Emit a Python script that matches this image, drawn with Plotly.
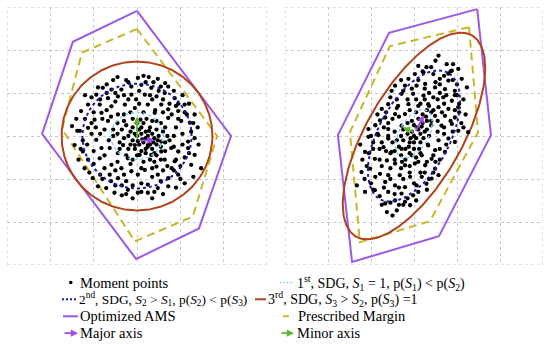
import numpy as np
import plotly.graph_objects as go

# ---------------- data ----------------
grid_ticks = [-3, -2, -1, 0, 1, 2, 3]

left_pts_x = [-0.45,0.02,0.27,0.48,0.65,0.72,-0.79,-0.59,-0.36,-0.13,0.1,0.33,-0.94,-0.67,-0.44,-0.13,-0.02,0.18,0.45,0.64,0.87,1.1,1.33,-1.13,-0.86,-0.59,-0.28,-0.05,0.25,0.56,0.72,0.95,-1.29,-0.82,-0.44,0.41,0.72,1.02,1.22,-0.98,-0.67,-1.13,-1.32,-0.75,
 -1.44,-1.25,-0.94,-0.82,-0.86,-1.13,-1.21,-1.02,-0.9,-0.71,-0.52,-0.63,-0.59,-0.36,-0.44,-0.25,-0.13,0.02,0.18,0.45,0.48,0.25,0.48,0.25,0.72,0.72,0.95,0.87,0.64,0.95,1.18,1.33,1.18,0.79,0.56,0.33,0.06,-0.21,-0.44,-0.63,-0.32,-0.05,0.25,0.56,0.02,-0.21,1.33,1.25,1.48,-1.5,-1.38,-0.9,
 -1.05,-0.2,0.38,0.85,1.05,1.2,1.4,1.42,1.3,1.1,0.9,0.6,0.35,-0.1,-0.35,-0.8,-1.1,-1.35,-1.4,-1.2,-0.7,-0.55,0.15,-1.25,-1.05,-1.0,-0.7,-0.5,0.05,0.6,0.95,1.15,0.9,1.05,1.1,0.8,1.0,0.6,0.35,0.1,-0.1,-0.35,-0.6,-0.75,-1.0,-1.15,-0.95,0.8,0.5,0.3,-0.3,-0.15,0.15,0.45,0.65,0.85,0.75,-0.6,-0.85,-0.55,-0.65,-0.45,-0.15,0.15,0.4,0.65,0.9,-0.3,0.1,
 0.0,0.1,0.2,0.3,0.4,0.15,0.05,0.25,0.35,0.45,-0.1,-0.2,-0.3,-0.15,0.05,0.2,0.35,0.5,0.1,-0.05,0.2,0.4,-0.2,-0.35,-0.25,0.0,0.15,0.3,0.45,0.55,-0.1,0.1,0.25,0.3,0.12,-0.05,0.38,0.2,0.02,-0.15,0.28,0.48,0.08,-0.3,0.35,-0.4,0.6,0.55,-0.45,0.0,
 -0.7,0.55,0.2,-0.25,0.9,1.1,1.3,0.75,0.35,-0.2,-0.5,-0.85,-1.2,-1.05,-0.45,-0.3,0.05,0.6,0.95,1.25,1.2,1.0,0.85,0.55,0.4,0.1,-0.25,-0.5,-0.85,-1.0,-1.3,-0.75,-0.5,-0.25,0.35,0.7,0.55,0.85,1.05,-0.55,-0.4,0.7,0.65,0.45,0.3,-0.1,0.22,-0.1,0.42,-0.8]
left_pts_y = [1.37,1.35,1.37,1.33,1.23,1.15,1.12,1.08,1.08,1.15,1.19,1.12,0.96,0.88,0.92,0.96,0.85,0.96,0.92,1.0,0.88,0.73,0.5,0.73,0.73,0.69,0.73,0.65,0.73,0.73,0.62,0.58,0.58,0.54,0.5,0.54,0.42,0.35,0.31,0.38,0.35,0.19,0.12,0.15,
 -0.21,-0.36,-0.09,-0.28,-0.52,-0.55,-0.75,-0.98,-1.17,-1.21,-1.32,-0.9,-0.67,-0.75,-0.98,-1.05,-0.82,-0.9,-0.79,-0.71,-0.9,-1.13,-1.21,-1.32,-0.98,-1.17,-0.9,-0.59,-0.55,-0.36,-0.28,-0.05,-0.13,-0.28,-0.36,-0.44,-0.44,-0.52,-0.4,-0.28,-0.21,-0.21,-0.21,-0.13,-1.32,-1.25,-0.44,-0.67,-0.75,0.23,0.12,1.13,
 0.9,1.25,1.25,1.05,0.95,0.75,0.2,-0.2,-0.95,-1.1,-1.2,-1.35,-1.45,-1.45,-1.38,-1.0,-0.85,-0.55,0.4,0.95,1.2,1.3,1.4,-0.1,0.05,0.55,0.6,0.8,1.05,0.85,0.75,0.5,0.2,0.05,-0.5,-0.75,-0.7,-0.8,-0.95,-1.1,-1.15,-1.15,-1.05,-0.75,-0.35,-0.2,0.2,0.5,1.05,0.95,0.95,0.55,0.55,0.35,0.2,0.0,-0.1,0.45,0.05,0.15,-0.1,-0.6,-0.65,-0.6,-0.6,-0.35,-0.55,-0.9,-0.75,
 0.0,0.05,-0.05,-0.1,-0.05,-0.15,-0.2,-0.25,-0.3,-0.2,-0.1,0.0,-0.05,0.1,0.15,0.1,0.05,0.0,-0.35,-0.3,-0.4,-0.4,-0.3,0.15,0.25,0.3,0.3,0.2,0.15,-0.25,0.2,0.2,0.0,-0.2,-0.08,0.05,-0.15,-0.3,-0.12,-0.2,0.12,-0.1,0.38,0.35,0.35,-0.15,0.1,0.3,0.05,-0.45,
 1.0,1.15,1.25,1.3,0.7,0.55,0.3,0.75,0.85,0.85,1.0,0.85,0.4,0.3,0.3,0.5,0.75,0.55,0.4,0.1,-0.4,-1.0,-0.8,-1.05,-1.3,-1.3,-1.35,-1.15,-0.9,-0.65,-0.3,-0.45,-0.8,-0.45,-0.75,-0.7,-0.55,-0.25,-0.2,0.0,-0.3,0.0,-0.15,-0.45,-0.55,-0.55,0.4,0.4,0.6,0.4]

right_pts_x = [0.57,0.1,0.29,0.76,0.91,1.03,0.88,0.02,0.22,0.45,0.6,0.8,1.11,1.23,-0.13,-0.21,0.06,0.26,0.49,0.72,0.95,-0.44,-0.52,-0.29,-0.02,0.22,0.45,0.68,0.88,1.03,-0.6,-0.37,-0.13,0.1,0.33,0.57,0.8,-0.75,-0.67,-0.44,-0.21,0.49,0.72,0.95,0.88,0.64,-0.79,-1.06,-0.6,-0.29,1.03,1.26,
 -1.06,-0.83,-0.6,-1.14,-0.95,-0.71,-0.52,-0.29,-0.91,-0.63,-0.44,-0.21,0.02,0.26,0.49,0.57,-1.22,-1.02,-0.79,-0.6,-0.33,-0.09,0.18,0.41,-0.67,-0.44,-0.21,0.06,0.29,-1.14,-0.91,-0.6,-0.29,-0.02,-0.67,-0.44,-0.21,-0.09,-0.63,-0.4,0.72,0.49,0.8,0.57,0.33,0.18,0.41,-0.05,0.95,-1.33,
 0.0,0.1,-0.1,0.2,-0.2,0.05,0.15,-0.05,0.25,-0.25,0.0,0.1,-0.15,0.3,-0.3,-0.1,0.0,0.15,-0.2,0.05,0.3,0.2,-0.05,-0.25,0.35,-0.35,0.12,-0.12,0.08,0.22,-0.15,0.4,-0.4,0.0,0.18,-0.08,0.28,-0.28,0.05,-0.1,0.4,-0.45,0.15,-0.3,0.32,
 0.7,0.4,-0.3,0.9,1.15,1.2,1.1,0.95,0.7,0.45,0.25,-0.1,-0.5,-0.7,-0.85,-0.4,-0.55,0.6,0.35,0.1,0.7,0.55,0.75,0.6,0.45,0.3,0.1,-0.15,-0.35,-0.55,-0.8,-1.0,-1.2,-1.25,-1.0,-0.9,-0.75,-0.5,-0.45,-0.75,-0.9,-0.55,-0.35,0.0,0.25,0.45,0.55,0.35,0.6,1.0,0.85,-0.25,0.05,-0.35,-0.6,-0.65,
 0.5,0.2,0.8,1.0,0.5,0.25,-0.05,0.75,1.05,0.65,0.3,-0.15,-0.4,-0.65,0.85,1.15,0.9,0.6,0.5,0.3,0.35,0.15,-0.1,-0.25,-0.55,-0.8,-1.05,-1.1,-1.15,-0.95,-0.7,-0.45,-0.25,-0.5,-0.75,0.05,-0.85,-0.6,-0.45,-0.95,-0.3,0.1,0.55,0.4,0.7,0.95,0.15,-0.55,-0.8,1.05]
right_pts_y = [1.87,1.63,1.6,1.67,1.67,1.56,1.52,1.44,1.48,1.44,1.33,1.29,1.33,1.13,1.33,1.17,1.17,1.21,1.13,1.09,1.05,1.17,1.05,0.98,0.98,0.94,0.9,0.9,0.82,0.67,0.74,0.7,0.74,0.7,0.74,0.67,0.63,0.63,0.43,0.51,0.51,0.47,0.47,0.43,0.28,0.24,0.36,0.16,0.16,0.24,0.12,0.09,
 -0.02,0.02,-0.06,-0.37,-0.3,-0.26,-0.37,-0.3,-0.53,-0.57,-0.64,-0.68,-0.64,-0.68,-0.76,-0.91,-0.84,-0.76,-0.88,-0.91,-0.91,-0.95,-0.95,-0.99,-1.07,-1.15,-1.19,-1.15,-1.11,-1.3,-1.26,-1.3,-1.34,-1.38,-1.57,-1.5,-1.53,-1.61,-1.77,-1.73,-0.37,-0.33,-0.06,-0.1,-0.22,-0.45,-0.53,-0.45,-0.14,-1.15,
 0.0,0.15,-0.15,0.3,-0.3,-0.05,0.05,0.1,0.1,-0.1,0.25,0.4,0.05,0.35,-0.45,-0.4,-0.3,-0.15,-0.55,-0.5,0.15,0.5,0.35,0.15,0.0,-0.25,-0.3,-0.25,0.2,-0.05,0.3,0.25,-0.1,-0.15,0.22,-0.05,0.45,-0.6,0.55,-0.7,0.55,-0.35,-0.4,0.0,-0.2,
 1.4,1.6,1.3,1.3,0.85,0.5,0.3,0.6,0.75,0.6,0.85,0.6,0.4,0.2,0.5,0.85,0.9,1.0,1.0,1.3,0.2,0.1,-0.2,-0.55,-0.85,-1.25,-1.3,-1.45,-1.6,-1.55,-1.4,-1.1,-0.55,-0.2,0.0,0.25,-0.15,-0.15,-0.55,-0.7,-0.95,-1.0,-1.2,-1.1,-0.85,-0.45,0.35,0.7,1.2,0.95,1.5,1.05,0.85,0.45,0.0,-0.35,
 1.75,1.5,1.45,1.2,1.25,1.1,1.1,0.95,0.75,0.55,0.6,0.85,0.65,0.55,0.35,0.2,0.1,-0.3,-0.6,-0.6,-1.0,-0.85,-0.85,-1.0,-0.75,-0.55,-0.4,-0.7,-1.0,-1.25,-1.2,-1.35,-1.6,-1.85,-1.6,-1.5,0.05,0.3,0.1,-0.15,-0.75,-0.6,0.85,0.35,0.05,0.95,0.75,-0.4,-0.3,0.55]

# polygons (vertices)
left_ams_x = [0.0, -1.48, -2.19, -0.02, 1.43, 2.17]
left_ams_y = [2.91, 2.19, 0.05, -2.86, -2.15, 0.0]
left_margin_x = [0.0, -1.27, -1.73, -0.05, 1.29, 1.85]
left_margin_y = [2.49, 1.94, 0.16, -2.45, -1.87, 0.0]
right_ams_x = [1.47, -0.58, -1.77, -1.44, 0.58, 1.79]
right_ams_y = [2.95, 2.40, 0.02, -2.93, -2.33, 0.02]
right_margin_x = [1.28, -0.56, -1.49, -1.26, 0.37, 1.49]
right_margin_y = [2.53, 2.09, 0.09, -2.47, -1.98, 0.09]

# SDG ellipses: (cx, cy, semi-major, semi-minor, angle deg)
left_sdg1 = (0.0, 0.0, 0.6, 0.55, 0)
left_sdg2 = (0.0, 0.0, 1.26, 1.22, 0)
left_sdg3 = (0.0, 0.0, 1.74, 1.73, 0)
right_sdg1 = (0.0, 0.05, 0.62, 0.34, 60)
right_sdg2 = (0.0, 0.0, 1.67, 0.83, 62)
right_sdg3 = (0.0, 0.0, 2.70, 1.11, 60)

# axes arrows: (x0, y0, x1, y1)
left_major = (0.0, -0.1, 0.4, -0.1)
left_minor = (0.0, -0.1, 0.0, 0.45)
right_major = (0.02, 0.08, 0.23, 0.48)
right_minor = (0.02, 0.08, -0.26, 0.2)

legend_labels = [
    'Moment points',
    '1<sup>st</sup>, SDG, <i>S</i><sub>1</sub> = 1, p(<i>S</i><sub>1</sub>) &lt; p(<i>S</i><sub>2</sub>)',
    '2<sup>nd</sup>, SDG, <i>S</i><sub>2</sub> &gt; <i>S</i><sub>1</sub>, p(<i>S</i><sub>2</sub>) &lt; p(<i>S</i><sub>3</sub>)',
    '3<sup>rd</sup>, SDG, <i>S</i><sub>3</sub> &gt; <i>S</i><sub>2</sub>, p(<i>S</i><sub>3</sub>) =1',
    'Optimized AMS',
    'Prescribed Margin',
    'Major axis',
    'Minor axis',
]

# ---------------- styles ----------------
C_PTS = 'black'
C_S1 = '#7fd6f2'
C_S2 = '#1c1ca8'
C_S3 = '#b1431a'
C_AMS = '#9a5ae6'
C_MARGIN = '#c8b62a'
C_MAJOR = '#a24be8'
C_MINOR = '#5cb82c'
GRID = '#c8c8c8'
W, H = 550, 344


def ellipse(p):
    cx, cy, a, b, ang = p
    t = np.linspace(0, 2 * np.pi, 241)
    th = np.deg2rad(ang)
    x = cx + a * np.cos(t) * np.cos(th) - b * np.sin(t) * np.sin(th)
    y = cy + a * np.cos(t) * np.sin(th) + b * np.sin(t) * np.cos(th)
    return x, y


fig = go.Figure()

panels = [
    ('x', 'y', left_pts_x, left_pts_y, left_sdg1, left_sdg2, left_sdg3,
     left_ams_x, left_ams_y, left_margin_x, left_margin_y, left_major, left_minor),
    ('x2', 'y2', right_pts_x, right_pts_y, right_sdg1, right_sdg2, right_sdg3,
     right_ams_x, right_ams_y, right_margin_x, right_margin_y, right_major, right_minor),
]

for (xr, yr, px, py, s1, s2, s3, ax_, ay_, mx, my, maj, mnr) in panels:
    fig.add_trace(go.Scatter(x=ax_ + ax_[:1], y=ay_ + ay_[:1], mode='lines', xaxis=xr, yaxis=yr,
                             line=dict(color=C_AMS, width=2), name=legend_labels[4], showlegend=False))
    fig.add_trace(go.Scatter(x=mx + mx[:1], y=my + my[:1], mode='lines', xaxis=xr, yaxis=yr,
                             line=dict(color=C_MARGIN, width=2, dash='8px,5px'), name=legend_labels[5], showlegend=False))
    ex, ey = ellipse(s3)
    fig.add_trace(go.Scatter(x=ex, y=ey, mode='lines', xaxis=xr, yaxis=yr,
                             line=dict(color=C_S3, width=2), showlegend=False))
    fig.add_trace(go.Scatter(x=px, y=py, mode='markers', xaxis=xr, yaxis=yr,
                             marker=dict(color=C_PTS, size=4.3), showlegend=False))
    ex, ey = ellipse(s2)
    fig.add_trace(go.Scatter(x=ex, y=ey, mode='lines', xaxis=xr, yaxis=yr,
                             line=dict(color=C_S2, width=2, dash='dot'), showlegend=False))
    ex, ey = ellipse(s1)
    fig.add_trace(go.Scatter(x=ex, y=ey, mode='lines', xaxis=xr, yaxis=yr,
                             line=dict(color=C_S1, width=1.5, dash='dot'), showlegend=False))
    for (arr, col) in ((maj, C_MAJOR), (mnr, C_MINOR)):
        fig.add_annotation(x=arr[2], y=arr[3], ax=arr[0], ay=arr[1], xref=xr, yref=yr,
                           axref=xr, ayref=yr, text='', showarrow=True, arrowhead=2,
                           arrowsize=0.8, arrowwidth=1.8, arrowcolor=col)
    # outer dashed grid border
    for v in (grid_ticks[0], grid_ticks[-1]):
        fig.add_shape(type='line', xref=xr, yref=yr, x0=v, x1=v, y0=grid_ticks[0], y1=grid_ticks[-1],
                      line=dict(color=GRID, width=1, dash='3px,3px'), layer='below')
        fig.add_shape(type='line', xref=xr, yref=yr, y0=v, y1=v, x0=grid_ticks[0], x1=grid_ticks[-1],
                      line=dict(color=GRID, width=1, dash='3px,3px'), layer='below')

# ---------------- manual legend (paper coordinates, pixels converted) ----------------
def px2x(p):
    return p / W


def py2y(p):
    return 1 - p / H


rows_y = [282.5, 299.3, 316.3, 333.2]
# (label index, row, symbol x0, symbol x1, text x, kind, color, font size)
legend_items = [
    (0, 0, 69.0, 72.5, 78.0, 'dot', C_PTS, 14.5),
    (1, 0, 280.0, 294.0, 294.5, 'dotline', C_S1, 14.0),
    (2, 1, 62.0, 77.0, 77.0, 'dotline2', C_S2, 13.4),
    (3, 1, 255.0, 266.0, 265.5, 'line', C_S3, 14.0),
    (4, 2, 63.0, 78.0, 77.5, 'line', C_AMS, 14.5),
    (5, 2, 283.0, 289.0, 295.5, 'line', C_MARGIN, 14.5),
    (6, 3, 63.0, 78.0, 77.5, 'arrow', C_MAJOR, 14.5),
    (7, 3, 280.0, 294.0, 294.5, 'arrow', C_MINOR, 14.5),
]
for (li, r, x0, x1, tx, kind, col, fs) in legend_items:
    yy = rows_y[r]
    if kind == 'dot':
        fig.add_shape(type='circle', xref='paper', yref='paper',
                      x0=px2x(x0), x1=px2x(x1), y0=py2y(yy + 1.75), y1=py2y(yy - 1.75),
                      fillcolor=col, line=dict(color=col, width=0))
    elif kind == 'arrow':
        fig.add_annotation(x=px2x(x1), y=py2y(yy), xref='paper', yref='paper', ax=-(x1 - x0), ay=0,
                           text='', showarrow=True, arrowhead=2, arrowsize=0.8, arrowwidth=1.8,
                           arrowcolor=col)
    else:
        dash = {'line': 'solid', 'dotline': '1.5px,2px', 'dotline2': '2px,2px'}[kind]
        wid = 1.5 if kind == 'dotline' else 2
        fig.add_shape(type='line', xref='paper', yref='paper', x0=px2x(x0), x1=px2x(x1),
                      y0=py2y(yy), y1=py2y(yy), line=dict(color=col, width=wid, dash=dash))
    fig.add_annotation(x=px2x(tx), y=py2y(yy), xref='paper', yref='paper', text=legend_labels[li],
                       showarrow=False, xanchor='left', yanchor='middle',
                       font=dict(family='Liberation Serif', size=fs, color='black'))

axis_common = dict(range=[-3, 3], tickvals=grid_ticks, showticklabels=False, ticks='',
                   showgrid=True, gridcolor=GRID, gridwidth=1, griddash='3px,3px',
                   zeroline=False, showline=False, fixedrange=True)

fig.update_layout(
    width=W, height=H,
    margin=dict(l=0, r=0, t=0, b=0),
    paper_bgcolor='white', plot_bgcolor='white',
    xaxis=dict(domain=[7 / W, 267 / W], anchor='y', **axis_common),
    yaxis=dict(domain=[1 - 265 / H, 1 - 7 / H], anchor='x', **axis_common),
    xaxis2=dict(domain=[285 / W, 543 / W], anchor='y2', **axis_common),
    yaxis2=dict(domain=[1 - 265 / H, 1 - 7 / H], anchor='x2', **axis_common),
    showlegend=False,
)

fig.write_html('out.html', config={'displayModeBar': False},
               post_script="document.body.style.margin='0';document.body.style.padding='0';")
